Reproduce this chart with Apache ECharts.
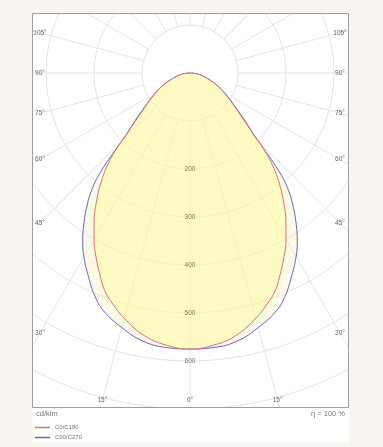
<!DOCTYPE html>
<html><head><meta charset="utf-8">
<script src="https://cdn.jsdelivr.net/npm/echarts@6/dist/echarts.min.js"></script>
<style>html,body{margin:0;padding:0;background:#f8f5f0;}#c{width:383px;height:447px;}</style>
</head><body><div id="c"></div>
<script>
// ---- data (gamma measured from nadir in degrees, intensity in cd/klm) ----
const gammaC0  = [0,5,9.7,14.5,18.7,21.5,23.7,27.1,29.9,32.6,36.3,39.5,42,44,46,48,51,55,60,65,70,75,80,85,90];
const c0c180   = [575,569,556,532,506,486,464,430,401,371,328,289,255,222,182,158,130,105,82,63,45,31,20,10,0];
const gammaC90 = [0,5,10,15,20,23,26.5,30,32.5,35,37.5,40,42,44,46,48,51,55,60,65,70,75,80,85,90];
const c90c270  = [575,574,567,549,527,506,474,442,416,386,354,319,280,226,185,162,134,107,84,64,46,32,20,10,0];
const radiusTickLabels = [200,300,400,500,600];
const sideAngleLabels = [105,90,75,60,45,30];
const bottomAngleLabels = [-15,0,15];
const spokeAngles = [0,15,30,45,60,75,90,105,120,135,150,165,180,195,210,225,240,255,270,285,300,315,330,345];

const FONT = 'Liberation Sans, Arial, sans-serif';
const cx = 190, cy = 73;           // polar pole
const frame = {x:32, y:13, w:317, h:395};
const panelBottom = 443;
const bg = '#f8f5f0';

function closedCurve(gammas, vals){
  const pts = [];
  for (let i = gammas.length-1; i >= 0; i--) pts.push([vals[i], gammas[i]]);
  for (let i = 1; i < gammas.length; i++) pts.push([vals[i], 360 - gammas[i]]);
  return pts;
}

const series = [];
spokeAngles.forEach(a => {
  series.push({
    type:'line', coordinateSystem:'polar', silent:true, clip:false, symbol:'none',
    lineStyle:{color:'#e4e4e4', width:1}, z:1,
    data:[[100, a],[800, a]]
  });
});
series.push({
  name:'C90/C270', type:'line', coordinateSystem:'polar', symbol:'none', smooth:0.45, silent:true,
  itemStyle:{color:'#6464c8'},
  lineStyle:{color:'#6464c8', width:1},
  areaStyle:{color:'rgba(247,240,190,0.55)'},
  data: closedCurve(gammaC90, c90c270), z:3
});
series.push({
  name:'C0/C180', type:'line', coordinateSystem:'polar', symbol:'none', smooth:0.45, silent:true,
  itemStyle:{color:'#e07070'},
  lineStyle:{color:'#e07070', width:1},
  areaStyle:{color:'rgba(255,253,150,0.6)'},
  data: closedCurve(gammaC0, c0c180), z:4
});
series.push({
  type:'scatter', coordinateSystem:'polar', silent:true, symbolSize:1,
  itemStyle:{color:'rgba(0,0,0,0)'},
  label:{show:true, position:'inside', formatter:p => String(p.value[0]), fontSize:6.5, color:'#555', fontFamily:FONT},
  data: radiusTickLabels.map(v => [v, 0]), z:6
});

const graphics = [];
// masks outside panel
graphics.push({type:'rect', shape:{x:0,y:0,width:383,height:frame.y}, style:{fill:bg}, z:100, silent:true});
graphics.push({type:'rect', shape:{x:0,y:0,width:frame.x,height:447}, style:{fill:bg}, z:100, silent:true});
graphics.push({type:'rect', shape:{x:frame.x+frame.w,y:0,width:383-frame.x-frame.w,height:447}, style:{fill:bg}, z:100, silent:true});
graphics.push({type:'rect', shape:{x:0,y:panelBottom,width:383,height:447-panelBottom}, style:{fill:bg}, z:100, silent:true});
graphics.push({type:'rect', shape:{x:frame.x,y:frame.y+frame.h,width:frame.w,height:panelBottom-frame.y-frame.h}, style:{fill:'#ffffff'}, z:100, silent:true});
graphics.push({type:'rect', shape:{x:frame.x+0.5,y:frame.y+0.5,width:frame.w-1,height:frame.h-1}, style:{fill:null, stroke:'#a39d97', lineWidth:1}, z:101, silent:true});
// angle labels on the sides
const insetL = 40, insetR = 340;
sideAngleLabels.forEach(g => {
  const r = g*Math.PI/180;
  const yL = cy + (cx-insetL)*Math.cos(r)/Math.sin(r);
  const yR = cy + (insetR-cx)*Math.cos(r)/Math.sin(r);
  graphics.push({type:'text', x:insetL, y:yL, style:{text:g+'°', fill:'#666', font:'6.5px '+FONT, textAlign:'center', textVerticalAlign:'middle'}, z:110, silent:true});
  graphics.push({type:'text', x:insetR, y:yR, style:{text:g+'°', fill:'#666', font:'6.5px '+FONT, textAlign:'center', textVerticalAlign:'middle'}, z:110, silent:true});
});
const bottomY = 400;
bottomAngleLabels.forEach(g => {
  const r = g*Math.PI/180;
  const x = cx + (bottomY-cy)*Math.tan(r);
  graphics.push({type:'text', x:x, y:bottomY, style:{text:Math.abs(g)+'°', fill:'#666', font:'6.5px '+FONT, textAlign:'center', textVerticalAlign:'middle'}, z:110, silent:true});
});
graphics.push({type:'text', x:36, y:414, style:{text:'cd/klm', fill:'#777', font:'7.5px '+FONT, textAlign:'left', textVerticalAlign:'middle'}, z:110, silent:true});
graphics.push({type:'text', x:345, y:414, style:{text:'η = 100 %', fill:'#777', font:'7.5px '+FONT, textAlign:'right', textVerticalAlign:'middle'}, z:110, silent:true});

const chart = echarts.init(document.getElementById('c'), null, {renderer:'canvas'});
chart.setOption({
  animation:false,
  backgroundColor:'#ffffff',
  polar:{center:[cx, cy], radius: 384},
  angleAxis:{type:'value', min:0, max:360, startAngle:270, clockwise:true,
    axisLine:{show:false}, axisTick:{show:false}, axisLabel:{show:false}, splitLine:{show:false}},
  radiusAxis:{type:'value', min:0, max:800, interval:100,
    axisLine:{show:false}, axisTick:{show:false}, axisLabel:{show:false},
    splitLine:{show:true, lineStyle:{color:'#e4e4e4', width:1}}},
  legend:{orient:'vertical', left:35, top:423.5, padding:0, itemWidth:15, itemHeight:1.5, itemGap:2, icon:'rect',
    selectedMode:false, z:200,
    data:['C0/C180','C90/C270'],
    textStyle:{fontSize:6, lineHeight:8, color:'#777', fontFamily:FONT}},
  graphic: graphics,
  series: series
});
</script></body></html>
